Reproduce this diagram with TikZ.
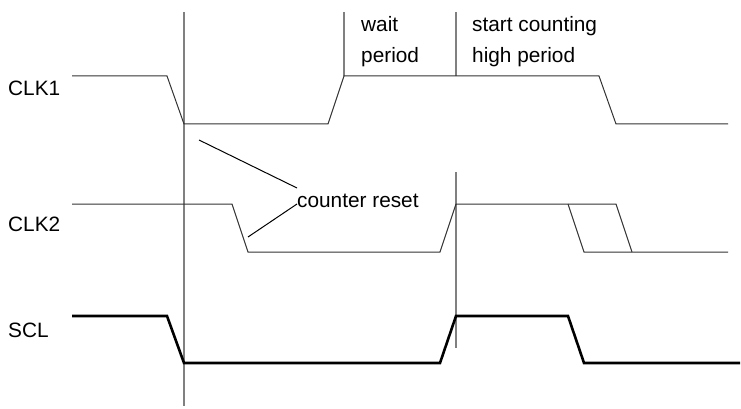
\documentclass[tikz,border=0pt]{standalone}
\usepackage{fontspec}
\setmainfont{Liberation Sans}
\begin{document}
\begin{tikzpicture}[x=1pt,y=-1pt,
  lbl/.style={anchor=base west,inner sep=0pt,font=\fontsize{20.8}{24}\selectfont},
  wave/.style={draw=black!80,line width=1pt,line join=miter},
  sclwave/.style={draw=black,line width=2.6pt,line join=miter},
  marker/.style={draw=black!50,line width=1.4pt},
  pointer/.style={draw=black,line width=1pt}]
\useasboundingbox (0,0) rectangle (741,409);
% vertical markers
\draw[marker] (184,12) -- (184,406);
\draw[marker] (344,12) -- (344,76);
\draw[marker] (456,12) -- (456,76);
\draw[marker] (456,172) -- (456,348);
% CLK1
\draw[wave] (72,76) -- (167,76) -- (184,124) -- (328,124) -- (344,76) -- (599,76) -- (616,124) -- (728,124);
% CLK2
\draw[wave] (72,204) -- (232,204) -- (248,252) -- (440,252) -- (456,204) -- (616,204) -- (632,252);
\draw[wave] (568,204) -- (584,252) -- (728,252);
% SCL
\draw[sclwave] (72,316) -- (167,316) -- (184,363) -- (440,363) -- (456,316) -- (568,316) -- (584,363) -- (740,363);
% labels
\node[lbl] (clk1) at (8,96) {CLK1};
\node[lbl] (clk2) at (8,231) {CLK2};
\node[lbl] (scl) at (8,337) {SCL};
\node[lbl] (wait) at (361,32) {wait};
\node[lbl] (period) at (361,63) {period};
\node[lbl] (start) at (472,32) {start counting};
\node[lbl] (high) at (472,63) {high period};
\node[lbl] (reset) at (297,207) {counter reset};
% counter reset pointers
\coordinate (p1) at (199,140);
\coordinate (p2) at (248,237);
\draw[pointer] (reset.west |- 0,188) -- (p1);
\draw[pointer] (reset.west |- 0,204) -- (p2);
\end{tikzpicture}
\end{document}
